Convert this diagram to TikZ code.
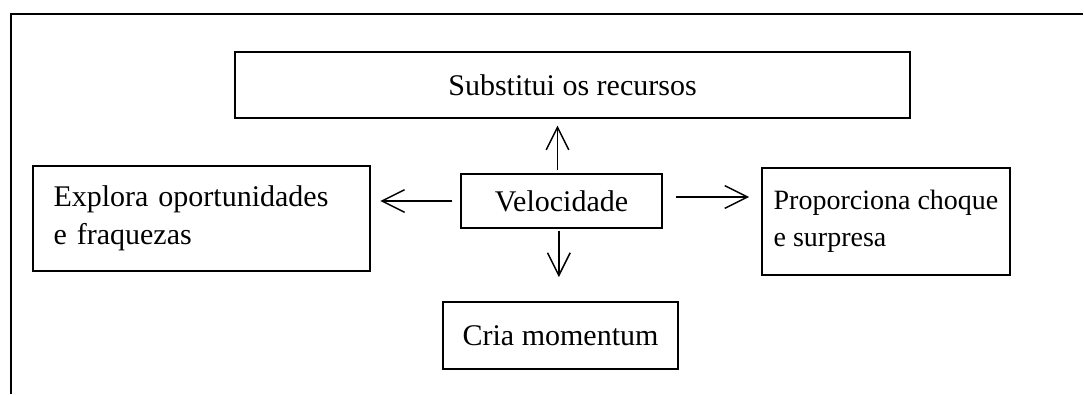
\documentclass[tikz,border=0pt]{standalone}
\usepackage{fontspec}
\setmainfont{Liberation Serif}
\usetikzlibrary{arrows.meta}

\tikzset{every picture/.style={line width=0.75pt}}
\tikzset{
  box/.style={draw, line width=1.4pt, inner sep=0pt, font=\fontsize{22.5}{28}\selectfont},
  lbox/.style={box, align=left},
  arr/.style={line width=1.1pt, -{Straight Barb[length=17pt,width=17pt,line width=1.1pt]}}
}

\begin{document}
\begin{tikzpicture}[x=0.75pt,y=0.75pt,yscale=-1,xscale=1]
\useasboundingbox (0,0) rectangle (1084,394);

%Straight Lines [id:frame]
\draw [line width=1.4pt]  (11,394) -- (11,14) -- (1083,14) ;

%Shape: Rectangle [id:sub]
\draw (572.5,85) node [box, minimum width=675*0.75pt, minimum height=66*0.75pt] (sub) {Substitui os recursos};
%Shape: Rectangle [id:vel]
\draw (561.5,201) node [box, minimum width=201*0.75pt, minimum height=54*0.75pt] (vel) {Velocidade};
%Shape: Rectangle [id:exp]
\draw (201.5,215.5) node [lbox, text width=296*0.75pt, minimum width=337*0.75pt, minimum height=105*0.75pt, yshift=-2pt] (exp) {Explora oportunidades\\e fraquezas};
%Shape: Rectangle [id:pro]
\draw (886,221.5) node [lbox, font=\fontsize{21}{28}\selectfont, minimum width=248*0.75pt, minimum height=107*0.75pt] (pro) {Proporciona choque\\e surpresa};
%Shape: Rectangle [id:cria]
\draw (560.5,335.5) node [box, minimum width=235*0.75pt, minimum height=67*0.75pt] (cria) {Cria momentum};

%Straight Lines [id:up]
\draw [arr, shorten <=2pt, shorten >=5pt]  ([xshift=-3pt]vel.north) -- ([xshift=-3pt]vel.north |- sub.south) ;
%Straight Lines [id:left]
\draw [arr, shorten <=6pt, shorten >=7pt]  (vel.west) -- (vel.west -| exp.east) ;
%Straight Lines [id:right]
\draw [arr, shorten <=10pt, shorten >=9pt]  ([yshift=-3pt]vel.east) -- ([yshift=-3pt]vel.east -| pro.west) ;
%Straight Lines [id:down]
\draw [arr, shorten <=1.5pt, shorten >=18pt]  ([xshift=-2pt]vel.south) -- ([xshift=-2pt]vel.south |- cria.north) ;
\end{tikzpicture}
\end{document}
